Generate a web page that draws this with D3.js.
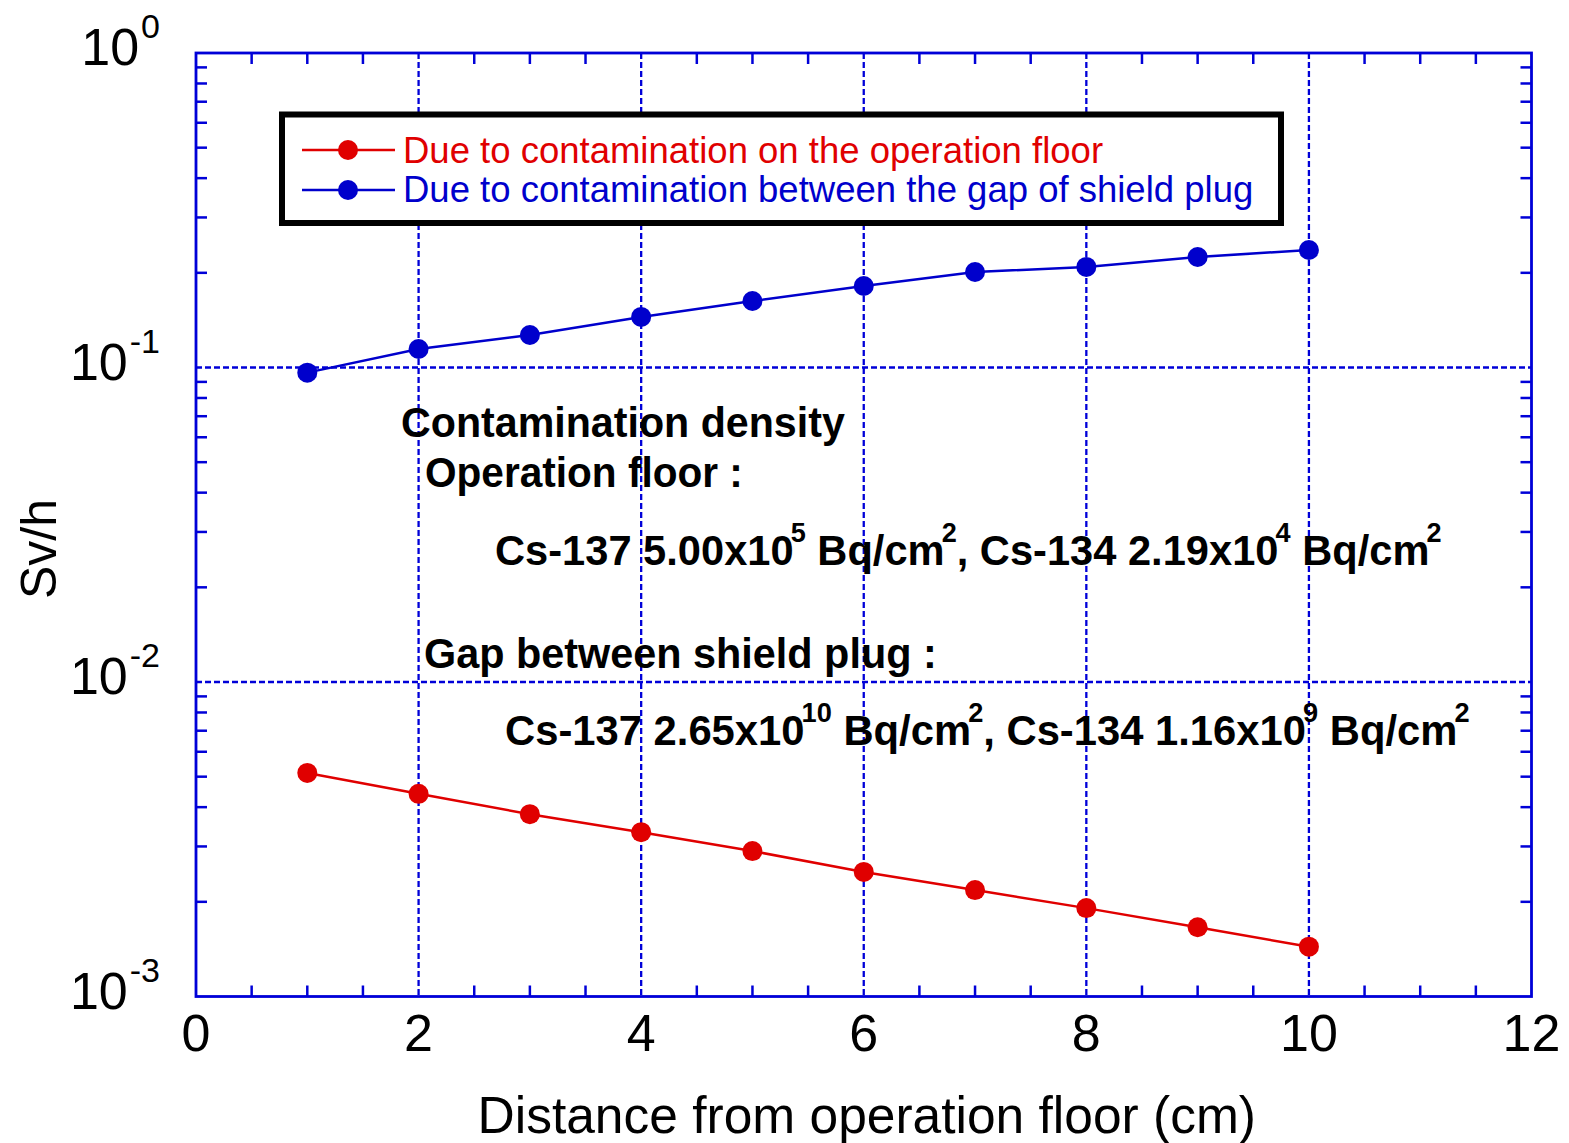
<!DOCTYPE html>
<html><head><meta charset="utf-8">
<script src="https://cdn.jsdelivr.net/npm/d3@7"></script>
<style>body{margin:0;background:#fff}svg{display:block}</style>
</head><body>
<svg id="c" width="1569" height="1143"></svg>
<script>
const distance = [1,2,3,4,5,6,7,8,9,10];
const floorDose = [0.00514,0.00441,0.00380,0.00333,0.00290,0.00249,0.00218,0.00191,0.00166,0.00144];
const gapDose = [0.0963,0.1145,0.1269,0.1448,0.1627,0.1816,0.2012,0.2088,0.2245,0.2363];
const xTickLabels = [0,2,4,6,8,10,12];
const xGrid = [2,4,6,8,10];
const yDecades = [0,-1,-2,-3];
const yGrid = [0.1,0.01];
const seriesNames = ["Due to contamination on the operation floor","Due to contamination between the gap of shield plug"];
const annotations = [
  {segs:[["Contamination density",0]], x:401, y:437, w:444},
  {segs:[["Operation floor :",0]], x:425, y:487, w:318},
  {segs:[["Cs-137 5.00x10",0],["5",1],[" Bq/cm",0],["2",1],[", Cs-134 2.19x10",0],["4",1],[" Bq/cm",0],["2",1]], x:495, y:565, w:947},
  {segs:[["Gap between shield plug :",0]], x:424, y:668, w:513},
  {segs:[["Cs-137 2.65x10",0],["10",1],[" Bq/cm",0],["2",1],[", Cs-134 1.16x10",0],["9",1],[" Bq/cm",0],["2",1]], x:505, y:745, w:965}
];

const BLUE = "#0000cc", RED = "#e00000", AX = "#0000d8";
const svg = d3.select("#c");
const L=196, R=1531.5, T=53, B=996.5;
const x = d3.scaleLinear().domain([0,12]).range([L,R]);
const y = d3.scaleLog().domain([1e-3,1]).range([B,T]);
const font = "'Liberation Sans', Arial, sans-serif";

// grid
const g = svg.append("g");
g.selectAll(".vg").data(xGrid).join("line")
  .attr("x1",d=>x(d)).attr("x2",d=>x(d)).attr("y1",T).attr("y2",B)
  .attr("stroke",AX).attr("stroke-width",2.3).attr("stroke-dasharray","6,3");
g.selectAll(".hg").data(yGrid).join("line")
  .attr("x1",L).attr("x2",R).attr("y1",d=>y(d)).attr("y2",d=>y(d))
  .attr("stroke",AX).attr("stroke-width",2.3).attr("stroke-dasharray","6,3");

// minor ticks
const xMinor = d3.range(0.5,12,0.5).filter(v=>v%2!==0);
const yMinor = [];
[-3,-2,-1].forEach(e=>{for(let k=2;k<=9;k++) yMinor.push(k*Math.pow(10,e));});
const tk=11;
g.selectAll(".xb").data(xMinor).join("line").attr("x1",d=>x(d)).attr("x2",d=>x(d)).attr("y1",B).attr("y2",B-tk).attr("stroke",AX).attr("stroke-width",2.5);
g.selectAll(".xt").data(xMinor).join("line").attr("x1",d=>x(d)).attr("x2",d=>x(d)).attr("y1",T).attr("y2",T+tk).attr("stroke",AX).attr("stroke-width",2.5);
g.selectAll(".yl").data(yMinor).join("line").attr("x1",L).attr("x2",L+tk).attr("y1",d=>y(d)).attr("y2",d=>y(d)).attr("stroke",AX).attr("stroke-width",2.5);
g.selectAll(".yr").data(yMinor).join("line").attr("x1",R).attr("x2",R-tk).attr("y1",d=>y(d)).attr("y2",d=>y(d)).attr("stroke",AX).attr("stroke-width",2.5);

// frame
svg.append("rect").attr("x",L).attr("y",T).attr("width",R-L).attr("height",B-T)
  .attr("fill","none").attr("stroke",AX).attr("stroke-width",2.8);

// tick labels
svg.selectAll(".xl").data(xTickLabels).join("text")
  .attr("x",d=>x(d)).attr("y",1051).attr("text-anchor","middle")
  .attr("font-family",font).attr("font-size",52).attr("fill","#000").text(d=>d);
const yl = svg.selectAll(".ylab").data(yDecades).join("text")
  .attr("x",L-36).attr("y",d=>y(Math.pow(10,d))+12).attr("text-anchor","end")
  .attr("font-family",font).attr("font-size",52).attr("fill","#000");
yl.append("tspan").text("10");
yl.append("tspan").attr("dy",-27).attr("dx",2).attr("font-size",34).text(d=>String(d));

// axis titles
svg.append("text").attr("x",(L+R)/2+3).attr("y",1133).attr("text-anchor","middle")
  .attr("font-family",font).attr("font-size",51.5).attr("fill","#000").text("Distance from operation floor (cm)");
svg.append("text").attr("transform","translate(56,549) rotate(-90)").attr("text-anchor","middle")
  .attr("font-family",font).attr("font-size",50).attr("fill","#000").text("Sv/h");

// series
const series = [{vals:floorDose,color:RED},{vals:gapDose,color:BLUE}];
const line = d3.line().x(d=>x(d[0])).y(d=>y(d[1]));
series.forEach(s=>{
  const pts = distance.map((d,i)=>[d,s.vals[i]]);
  svg.append("path").attr("d",line(pts)).attr("fill","none").attr("stroke",s.color).attr("stroke-width",2.5);
  svg.append("g").selectAll("circle").data(pts).join("circle")
    .attr("cx",d=>x(d[0])).attr("cy",d=>y(d[1])).attr("r",10).attr("fill",s.color);
});

// legend
svg.append("rect").attr("x",282).attr("y",114.5).attr("width",999).attr("height",108.5)
  .attr("fill","#fff").attr("stroke","#000").attr("stroke-width",6);
const legY=[150,190], legBase=[163,202];
series.forEach((s,i)=>{
  svg.append("line").attr("x1",302).attr("x2",395).attr("y1",legY[i]).attr("y2",legY[i]).attr("stroke",s.color).attr("stroke-width",2.5);
  svg.append("circle").attr("cx",348).attr("cy",legY[i]).attr("r",10).attr("fill",s.color);
  svg.append("text").attr("x",403).attr("y",legBase[i]).attr("font-family",font).attr("font-size",36.5)
    .attr("fill",s.color).text(seriesNames[i]);
});

// annotations
annotations.forEach(a=>{
  const grp = svg.append("g").attr("transform",`translate(${a.x},${a.y})`);
  const t = grp.append("text").attr("x",0).attr("y",0).attr("font-family",font)
    .attr("font-weight","bold").attr("font-size",43).attr("fill","#000");
  let up=false;
  a.segs.forEach(([txt,sup])=>{
    const ts = t.append("tspan").text(txt).attr("style","white-space:pre");
    if(sup){ ts.attr("font-size",28).attr("dy",-23).attr("dx",-3); up=true; }
    else if(up){ ts.attr("dy",23); up=false; }
  });
  const bb = t.node().getBBox();
  const s = a.w/bb.width;
  t.attr("x",-bb.x);
  grp.attr("transform",`translate(${a.x},${a.y}) scale(${s},1)`);
});
</script>
</body></html>
